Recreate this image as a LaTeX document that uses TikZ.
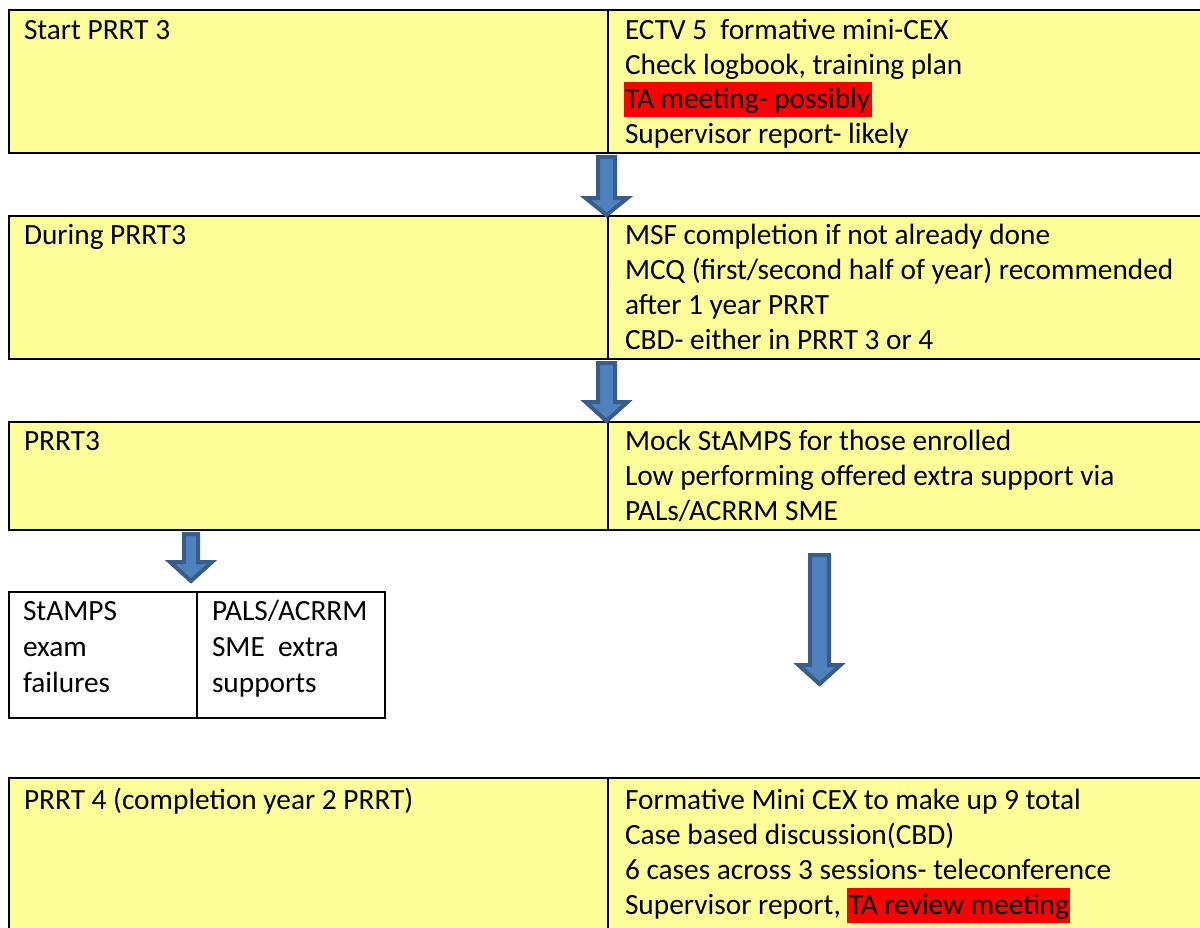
\documentclass[tikz,border=0pt]{standalone}
\usepackage{fontspec}
\setmainfont{Carlito}
\definecolor{boxyellow}{RGB}{255,255,153}
\definecolor{arrowfill}{RGB}{79,129,189}
\definecolor{arrowline}{RGB}{56,93,138}
\newcommand\hlr[1]{{\setlength{\fboxsep}{0pt}\colorbox{red}{\hspace*{1pt}\rule[-6.75pt]{0pt}{26.25pt}#1\hspace*{1pt}}}}
\newcommand\blockarr[6]{%
  \draw[barrow] (#1-#5,#2) -- (#1+#5,#2) -- (#1+#5,#3) -- (#1+#6,#3) -- (#1,#4) -- (#1-#6,#3) -- (#1-#5,#3) -- cycle;}
\begin{document}
\begin{tikzpicture}[x=0.75pt,y=-0.75pt,
  ybox/.style={draw=black,line width=1.8pt,fill=boxyellow,anchor=north west,inner sep=0pt,outer sep=0pt},
  wbox/.style={draw=black,line width=1.3pt,fill=white,anchor=north west,inner sep=0pt,outer sep=0pt},
  divider/.style={draw=black,line width=1.3pt},
  txt/.style={anchor=base west,inner sep=0pt,outer sep=0pt,font=\fontsize{22pt}{26.25pt}\selectfont},
  barrow/.style={draw=arrowline,fill=arrowfill,line width=3pt,line join=miter}]
\useasboundingbox (0,0) rectangle (1200,928);
\clip (0,0) rectangle (1200,928);

% boxes
\node[ybox,minimum width=1201*0.75pt,minimum height=143*0.75pt] (b1) at (9,10) {};
\node[ybox,minimum width=1201*0.75pt,minimum height=143*0.75pt] (b2) at (9,216) {};
\node[ybox,minimum width=1201*0.75pt,minimum height=108*0.75pt] (b3) at (9,422) {};
\node[ybox,minimum width=1201*0.75pt,minimum height=162*0.75pt] (b4) at (9,778) {};
\node[wbox,minimum width=376*0.75pt,minimum height=126*0.75pt] (sb) at (9,592) {};

% dividers
\draw[divider] (608,10) -- (608,153);
\draw[divider] (608,216) -- (608,359);
\draw[divider] (608,422) -- (608,530);
\draw[divider] (608,778) -- (608,940);
\draw[divider] (197,592) -- (197,718);

% box 1
\node[txt] (t1l) at (24,39) {Start PRRT 3};
\node[txt] (t1a) at (625,39) {ECTV 5\ \ formative mini-CEX};
\node[txt] (t1b) at (625,74) {Check logbook, training plan};
\node[txt] (t1c) at (623.7,108) {\hlr{TA meeting- possibly}};
\node[txt] (t1d) at (625,143) {Supervisor report- likely};

% box 2
\node[txt] (t2l) at (24,244) {During PRRT3};
\node[txt] (t2a) at (625,244) {MSF completion if not already done};
\node[txt] (t2b) at (625,279) {MCQ (first/second half of year) recommended};
\node[txt] (t2c) at (625,314) {after 1 year PRRT};
\node[txt] (t2d) at (625,349) {CBD- either in PRRT 3 or 4};

% box 3
\node[txt] (t3l) at (24,450) {PRRT3};
\node[txt] (t3a) at (625,450) {Mock StAMPS for those enrolled};
\node[txt] (t3b) at (625,485) {Low performing offered extra support via};
\node[txt] (t3c) at (625,520) {PALs/ACRRM SME};

% small box
\node[txt] (s1) at (23,620) {StAMPS};
\node[txt] (s2) at (23,656) {exam};
\node[txt] (s3) at (23,692) {failures};
\node[txt] (s4) at (212,620) {PALS/ACRRM};
\node[txt] (s5) at (212,656) {SME\ \ extra};
\node[txt] (s6) at (212,692) {supports};

% box 4
\node[txt] (t4l) at (24,809) {PRRT 4 (completion year 2 PRRT)};
\node[txt] (t4a) at (625,809) {Formative Mini CEX to make up 9 total};
\node[txt] (t4b) at (625,844) {Case based discussion(CBD)};
\node[txt] (t4c) at (625,879) {6 cases across 3 sessions- teleconference};
\node[txt] (t4d) at (625,914) {Supervisor report, \hlr{TA review meeting}};

% block arrows
\blockarr{606.5}{157}{198}{215}{8.5}{21}
\blockarr{606.5}{363}{402}{421}{8.5}{21}
\blockarr{191}{534}{562}{581}{7}{21}
\blockarr{819.5}{555}{665}{684}{9.5}{21}
\end{tikzpicture}
\end{document}
